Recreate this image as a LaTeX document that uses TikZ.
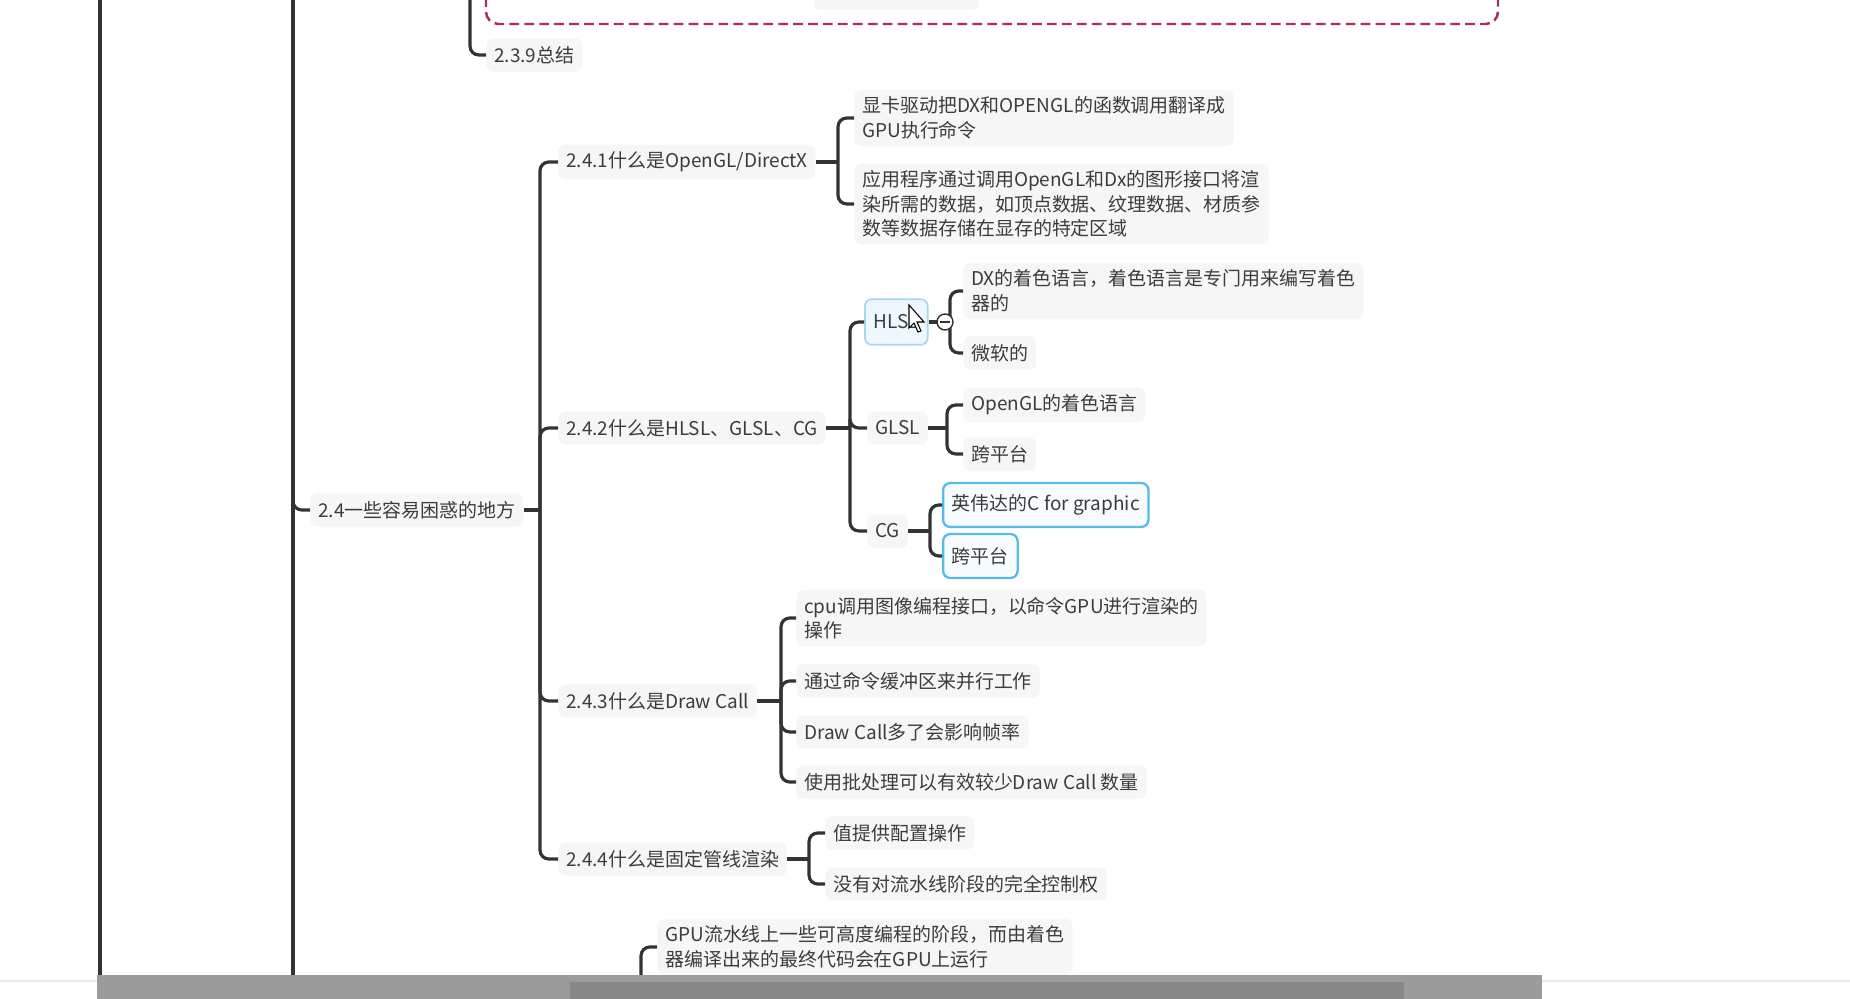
\documentclass[tikz,border=0pt]{standalone}
\usepackage{fontspec}
\setmainfont{Noto Sans CJK SC}
\usetikzlibrary{positioning}
\definecolor{linegray}{RGB}{51,51,51}
\definecolor{txtgray}{RGB}{60,60,60}
\definecolor{boxgray}{RGB}{246,246,246}
\definecolor{selblue}{RGB}{86,186,234}
\definecolor{hovblue}{RGB}{170,215,240}
\definecolor{hovfill}{RGB}{238,247,253}
\definecolor{dashred}{RGB}{170,50,72}
\definecolor{bargray}{RGB}{155,155,155}
\definecolor{bardark}{RGB}{135,135,135}
\newcommand{\mmfont}{\fontsize{10.8}{14}\selectfont}

\tikzset{
  topic/.style={fill=boxgray, rounded corners=4pt, anchor=west, align=left,
    inner xsep=4.5pt, inner ysep=4pt, minimum height=19pt, text=txtgray, font=\mmfont},
  selected/.style={topic, draw=selblue, line width=1.3pt, fill=white!96!selblue,
    minimum height=25pt, inner xsep=5pt},
  hovered/.style={topic, draw=hovblue, line width=1pt, fill=hovfill,
    minimum height=26pt, inner xsep=5pt},
  branch/.style={draw=linegray, line width=1.8pt, rounded corners=5pt},
  collapse/.style={circle, draw=linegray, fill=white, line width=0.8pt,
    inner sep=0pt, minimum size=0.32cm},
  dashbox/.style={draw=dashred, line width=1.4pt, dash pattern=on 5.5pt off 3pt,
    rounded corners=7pt},
}

\begin{document}
\begin{tikzpicture}[x=0.02cm,y=-0.02cm]
  \fill[white] (0,0) rectangle (1850,999);
  \useasboundingbox (0,0) rectangle (1850,999);

  % section 2.3 (cut off at the top)
  \draw[dashbox] (486,-30) rectangle (1498,24);
  \fill[boxgray, rounded corners=4pt] (814,-10) rectangle (979,10);

  % topics
  \node[topic] (n239) at (486,55) {2.3.9总结};
  \node[topic] (n24) at (310,510) {2.4一些容易困惑的地方};

  \node[topic] (n241) at (558,162) {2.4.1什么是OpenGL/DirectX};
  \node[topic] (n242) at (558,428) {2.4.2什么是HLSL、GLSL、CG};
  \node[topic] (n243) at (558,701) {2.4.3什么是Draw Call};
  \node[topic] (n244) at (558,859) {2.4.4什么是固定管线渲染};

  \node[topic] (d1) at (854,118) {显卡驱动把DX和OPENGL的函数调用翻译成\\GPU执行命令};
  \node[topic] (d2) at (854,204) {应用程序通过调用OpenGL和Dx的图形接口将渲\\染所需的数据，如顶点数据、纹理数据、材质参\\数等数据存储在显存的特定区域};

  \node[hovered] (hlsl) at (864,322) {HLSL};
  \node[topic] (glsl) at (867,428) {GLSL};
  \node[topic] (cg) at (867,531) {CG};

  \node[topic] (h1) at (963,291) {DX的着色语言，着色语言是专门用来编写着色\\器的};
  \node[topic] (h2) at (963,353) {微软的};
  \node[topic] (g1) at (963,405) {OpenGL的着色语言};
  \node[topic] (g2) at (963,454) {跨平台};
  \node[selected] (c1) at (942,505) {英伟达的C for graphic};
  \node[selected] (c2) at (942,556) {跨平台};

  \node[topic] (dc1) at (796,618) {cpu调用图像编程接口，以命令GPU进行渲染的\\操作};
  \node[topic] (dc2) at (796,681) {通过命令缓冲区来并行工作};
  \node[topic] (dc3) at (796,732) {Draw Call多了会影响帧率};
  \node[topic] (dc4) at (796,782) {使用批处理可以有效较少Draw Call 数量};

  \node[topic] (f1) at (825,833) {值提供配置操作};
  \node[topic] (f2) at (825,884) {没有对流水线阶段的完全控制权};

  \node[topic] (gpu) at (657,947) {GPU流水线上一些可高度编程的阶段，而由着色\\器编译出来的最终代码会在GPU上运行};

  % main trunks
  \draw[branch] (100,-10) -- (100,985);
  \draw[branch] (293,-10) -- (293,985);
  \draw[branch] (470,-10) |- (n239.west);
  \draw[branch] (293,480) |- (n24.west);
  \draw[branch] (641,990) |- (gpu.west);

  % spines
  \coordinate (s24) at (540,510);
  \coordinate (s241) at (838,162);
  \coordinate (s242) at (850,428);
  \coordinate (shlsl) at (950,322);
  \coordinate (sglsl) at (947,428);
  \coordinate (scg) at (930,531);
  \coordinate (s243) at (781,701);
  \coordinate (s244) at (809,859);

  \draw[branch] (n24.east) -- (s24);
  \foreach \c in {n241,n242,n243,n244} \draw[branch] (s24) |- (\c.west);
  \draw[branch] (n241.east) -- (s241);
  \foreach \c in {d1,d2} \draw[branch] (s241) |- (\c.west);
  \draw[branch] (n242.east) -- (s242);
  \foreach \c in {hlsl,glsl,cg} \draw[branch] (s242) |- (\c.west);
  \draw[branch] (hlsl.east) -- (shlsl);
  \foreach \c in {h1,h2} \draw[branch] (shlsl) |- (\c.west);
  \draw[branch] (glsl.east) -- (sglsl);
  \foreach \c in {g1,g2} \draw[branch] (sglsl) |- (\c.west);
  \draw[branch] (cg.east) -- (scg);
  \foreach \c in {c1,c2} \draw[branch] (scg) |- (\c.west);
  \draw[branch] (n243.east) -- (s243);
  \foreach \c in {dc1,dc2,dc3,dc4} \draw[branch] (s243) |- (\c.west);
  \draw[branch] (n244.east) -- (s244);
  \foreach \c in {f1,f2} \draw[branch] (s244) |- (\c.west);

  % collapse button and mouse pointer
  \node[collapse] (hcol) at (945,322) {};
  \draw[linegray, line width=0.8pt] ([xshift=-0.1cm]hcol.center) -- ([xshift=0.1cm]hcol.center);
  \filldraw[fill=white, draw=black, line width=0.6pt]
    (909,305) -- (909,328) -- (914,323) -- (918,332) -- (921,331) -- (917,322) -- (924,322) -- cycle;

  % player bar at the bottom
  \draw[line width=1.5pt, black!8] (0,981) -- (1850,981);
  \fill[bargray] (97,975) rectangle (1542,1005);
  \fill[bardark] (570,982) rectangle (1404,1005);
\end{tikzpicture}
\end{document}
